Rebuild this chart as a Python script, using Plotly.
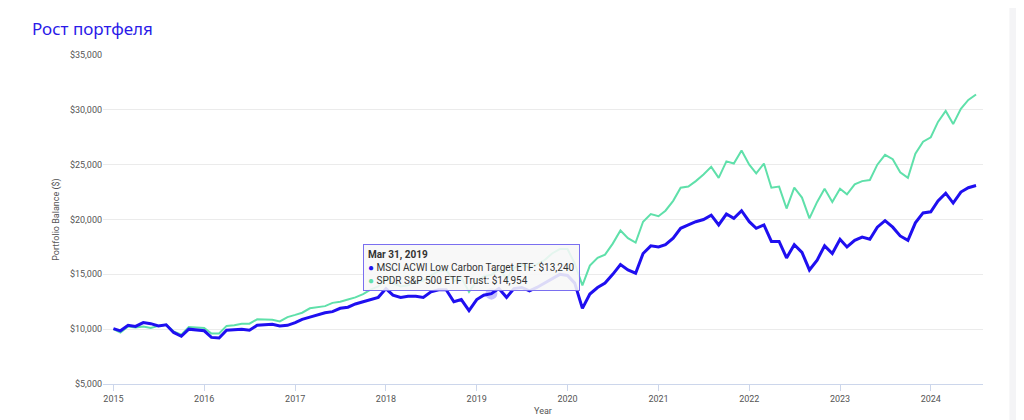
import pandas as pd
import plotly.graph_objects as go

# monthly month-end balances, Jan 2015 .. Jul 2024
dates = pd.date_range("2015-01-31", periods=115, freq="ME")

msci = [
    10050, 9850, 10350, 10250, 10600, 10500, 10300, 10400, 9700, 9350, 10000, 9950,
    9850, 9250, 9200, 9900, 9950, 10000, 9900, 10350, 10400, 10450, 10300, 10350,
    10600, 10900, 11100, 11300, 11500, 11600, 11900, 12000, 12300, 12500, 12700, 12900,
    13700, 13100, 12900, 13000, 13000, 12900, 13400, 13600, 13600, 12500, 12700, 11700,
    12700, 13100, 13240, 13700, 12900, 13700, 13800, 13500, 13800, 14200, 14600, 15000,
    14900, 14200, 11900, 13200, 13800, 14200, 15000, 15900, 15400, 15100, 16900, 17600,
    17500, 17700, 18300, 19200, 19500, 19800, 20000, 20400, 19500, 20500, 20100, 20800,
    19800, 19200, 19500, 18000, 18000, 16500, 17700, 17000, 15400, 16300, 17600, 16900,
    18200, 17500, 18100, 18400, 18200, 19300, 19900, 19300, 18500, 18100, 19700, 20600,
    20700, 21700, 22400, 21500, 22500, 22900, 23100,
]
spy = [
    10000, 9700, 10250, 10150, 10250, 10100, 10300, 10400, 9800, 9500, 10200, 10150,
    10100, 9600, 9600, 10300, 10350, 10500, 10500, 10900, 10900, 10850, 10700, 11100,
    11300, 11500, 11900, 12000, 12100, 12400, 12500, 12700, 12900, 13200, 13600, 13900,
    14700, 14200, 13900, 14000, 14300, 14400, 14900, 15300, 15400, 14400, 14700, 13400,
    14400, 14800, 14954, 15500, 14600, 15600, 15900, 15600, 15900, 16300, 16900, 17300,
    17300, 16000, 14000, 15800, 16500, 16800, 17800, 19000, 18300, 17900, 19800, 20500,
    20300, 20800, 21700, 22900, 23000, 23500, 24100, 24800, 23800, 25300, 25100, 26300,
    25000, 24200, 25100, 22900, 23000, 21000, 22900, 22000, 20100, 21600, 22800, 21600,
    22800, 22300, 23200, 23500, 23600, 25000, 25900, 25500, 24300, 23800, 26000, 27100,
    27500, 28900, 29900, 28700, 30100, 30900, 31400,
]
names = ["MSCI ACWI Low Carbon Target ETF", "SPDR S&P 500 ETF Trust"]
blue = "#1f0ff0"
green = "#5fe0aa"

fig = go.Figure()
fig.add_scatter(x=dates, y=spy, name=names[1], mode="lines", line=dict(color=green, width=2))
fig.add_scatter(x=dates, y=msci, name=names[0], mode="lines", line=dict(color=blue, width=3))
# hovered point highlight
i = 50
fig.add_scatter(x=[dates[i]], y=[msci[i]], mode="markers",
                marker=dict(size=12, color="rgba(31,15,240,0.25)"), showlegend=False)

fig.update_layout(
    width=1024, height=420, showlegend=False,
    paper_bgcolor="white", plot_bgcolor="white",
    margin=dict(l=95, r=49, t=47, b=44, autoexpand=False),
    font=dict(family="Roboto", color="#555", size=9),
    title=dict(text="Рост портфеля", x=24 / 1024, y=0.965, xanchor="left", yanchor="top",
               automargin=False,
               font=dict(family="Noto Sans", size=17, color="#2a1ae8")),
)
fig.update_yaxes(range=[5000, 35000], dtick=5000, tickprefix="$", tickformat=",",
                 gridcolor="#ebebeb", zeroline=False, ticks="", automargin=False,
                 title=dict(text="Portfolio Balance ($)", standoff=8,
                            font=dict(size=9, color="#555")))
fig.update_xaxes(range=["2014-12-20", "2024-08-28"], dtick="M12", tickformat="%Y",
                 tick0="2015-01-31", showgrid=False, showline=True, linecolor="#ccd6eb",
                 ticks="outside", tickcolor="#ccd6eb", ticklen=6, automargin=False,
                 title=dict(text="Year", standoff=4, font=dict(size=9, color="#555")))

# tooltip box
tip = ("<b>Mar 31, 2019</b><br>"
       f"<span style='color:{blue}'>●</span> {names[0]}: ${msci[i]:,}<br>"
       f"<span style='color:{green}'>●</span> {names[1]}: ${spy[i]:,}")
fig.add_annotation(xref="paper", yref="paper", x=0.295, y=0.4255, xanchor="left", yanchor="top",
                   text=tip, showarrow=False, align="left", bgcolor="rgba(247,247,247,0.88)",
                   bordercolor="#7a6ff0", borderwidth=1, borderpad=4,
                   font=dict(size=10, color="#333", family="Roboto"))
# grey right band of the page
fig.add_shape(type="rect", xref="paper", yref="paper", x0=1.03, x1=1.06, y0=-0.2, y1=1.2,
              fillcolor="#f4f4f6", line_width=0, layer="below")

fig.write_html("out.html")
